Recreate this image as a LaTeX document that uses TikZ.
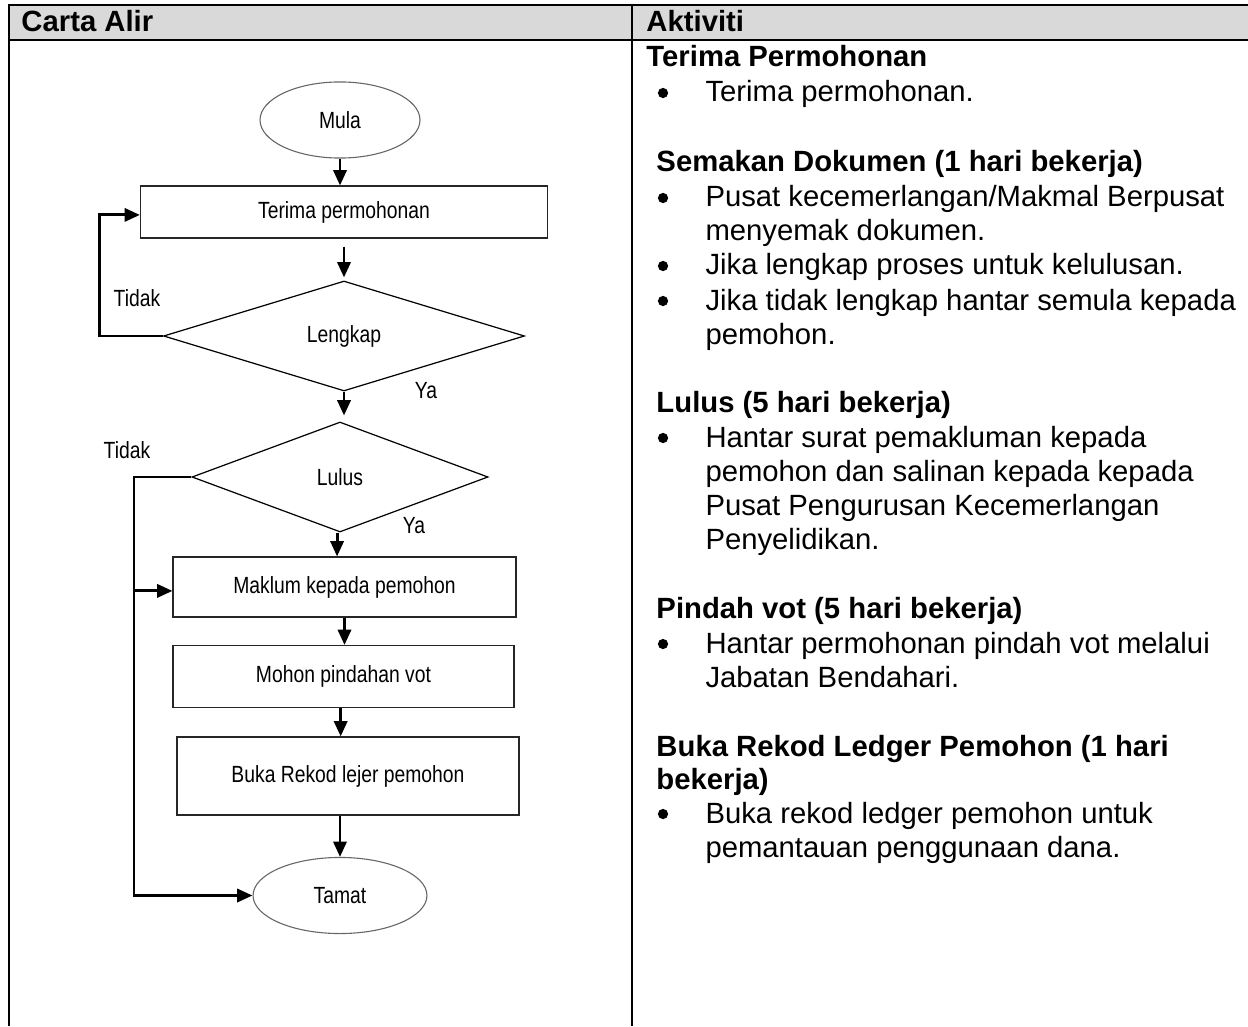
\documentclass[tikz,border=0pt]{standalone}
\usepackage{fontspec}
\setmainfont{Liberation Sans}
\newfontfamily\flowfont[FakeStretch=0.825]{Liberation Sans}
\newcommand\flowtext{\flowfont\fontsize{9.6}{11}\selectfont}
\usetikzlibrary{shapes.geometric}
\usetikzlibrary{arrows.meta}

\begin{document}
\begin{tikzpicture}[x=0.41pt,y=-0.41pt,
  rule/.style={line width=0.8pt},
  conn/.style={line width=1.2pt,-{Triangle[length=6.3pt,width=5.4pt]}},
  procbox/.style={draw=black!85,line width=0.45pt,font=\flowtext},
  decision/.style={diamond,draw,line width=0.5pt,inner sep=0pt,font=\flowtext},
  terminal/.style={ellipse,draw=black!60,line width=0.45pt,font=\flowtext},
  lbl/.style={inner sep=0pt,font=\flowtext},
  head/.style={anchor=base west,inner sep=0pt,font=\bfseries\fontsize{12}{14}\selectfont},
  txt/.style={anchor=base west,inner sep=0pt,font=\fontsize{12}{14}\selectfont},
  dot/.style={circle,fill,inner sep=0pt,minimum size=4.2pt},
]
\useasboundingbox (0,0) rectangle (1248,1026);

% table
\fill[black!15] (9,5) rectangle (1248,40);
\draw[rule] (9,1026) -- (9,5) -- (1248,5);
\draw[rule] (9,40) -- (1248,40);
\draw[rule] (632,5) -- (632,1026);
\node[head] (carta) at (21,32) {Carta Alir};
\node[head] (aktiviti) at (646,32) {Aktiviti};

% carta alir
\node[terminal,minimum width=65.6pt,minimum height=31.2pt] (mula) at (340,120) {Mula};
\node[procbox,minimum width=166.9pt,minimum height=21.3pt] (terima) at (344,212) {Terima permohonan};
\node[decision,aspect=3.3,minimum width=148pt,minimum height=45.1pt] (lengkap) at (344,336) {Lengkap};
\node[decision,aspect=2.7,minimum width=121.4pt,minimum height=45.1pt] (lulus) at (340,477) {Lulus};
\node[procbox,minimum width=140.6pt,minimum height=24.6pt] (maklum) at (344.5,587) {Maklum kepada pemohon};
\node[procbox,minimum width=139.8pt,minimum height=25.4pt] (mohon) at (343.5,676.5) {Mohon pindahan vot};
\node[procbox,minimum width=140.2pt,minimum height=32pt] (buka) at (348,776) {Buka Rekod lejer pemohon};
\node[terminal,minimum width=71.3pt,minimum height=31.2pt] (tamat) at (340,895.5) {Tamat};

\node[lbl] (tidak1) at (137,298) {Tidak};
\node[lbl] (ya1) at (426,391) {Ya};
\node[lbl] (tidak2) at (127,450) {Tidak};
\node[lbl] (ya2) at (414,526) {Ya};

\coordinate (tk) at (134,477);

\draw[conn] (mula.south) -- (mula.south |- terima.north);
\draw[conn,shorten <=3.3pt,shorten >=1.2pt] (terima.south) -- (terima.south |- lengkap.north);
\draw[conn] (lengkap.west) -- ++(-63,0) |- ([yshift=-1.2pt]terima.west);
\draw[conn,shorten >=2.4pt] (lengkap.south) -- (lengkap.south |- lulus.north);
\draw[conn] ([xshift=-1.2pt]lulus.south) -- ([xshift=-1.2pt]lulus.south |- maklum.north);
\draw[conn] (lulus.west) -- (tk) |- (tamat.west);
\draw[conn] ([yshift=-1.6pt]tk |- maklum.west) -- ([yshift=-1.6pt]maklum.west);
\draw[conn] (maklum.south) -- (maklum.south |- mohon.north);
\draw[conn] ([xshift=-3pt]buka.north |- mohon.south) -- ([xshift=-3pt]buka.north);
\draw[conn] (tamat.north |- buka.south) -- (tamat.north);

% aktiviti
\foreach \hx/\hy/\htxt [count=\i] in {646/67/{Terima Permohonan},
    656/172/{Semakan Dokumen (1 hari bekerja)},
    656/412/{Lulus (5 hari bekerja)},
    656/618/{Pindah vot (5 hari bekerja)},
    656/756/{Buka Rekod Ledger Pemohon (1 hari},
    656/789/{bekerja)}}
  \node[head] (hd\i) at (\hx,\hy) {\htxt};

\foreach \by [count=\i] in {102,207,275,310,447,653,823}
  \node[dot] (dot\i) at (663,\by-9) {};

\foreach \ty/\ttxt [count=\i] in {102/{Terima permohonan.},
    207/{Pusat kecemerlangan/Makmal Berpusat},
    241/{menyemak dokumen.},
    275/{Jika lengkap proses untuk kelulusan.},
    310/{Jika tidak lengkap hantar semula kepada},
    344/{pemohon.},
    447/{Hantar surat pemakluman kepada},
    481/{pemohon dan salinan kepada kepada},
    515/{Pusat Pengurusan Kecemerlangan},
    549/{Penyelidikan.},
    653/{Hantar permohonan pindah vot melalui},
    687/{Jabatan Bendahari.},
    823/{Buka rekod ledger pemohon untuk},
    857/{pemantauan penggunaan dana.}}
  \node[txt] (ln\i) at (705,\ty) {\ttxt};

\end{tikzpicture}
\end{document}
